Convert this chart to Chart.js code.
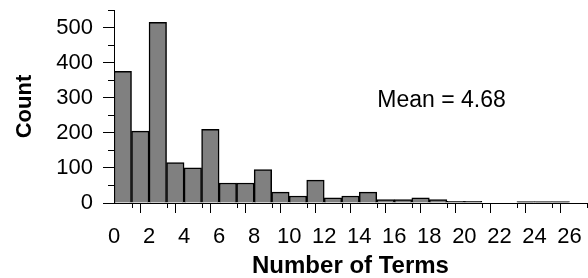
<!DOCTYPE html>
<html>
<head>
<meta charset="utf-8">
<script src="https://cdn.jsdelivr.net/npm/chart.js@4"></script>
<style>
  html, body { margin: 0; padding: 0; background: #fff; }
  #c { display: block; }
</style>
</head>
<body>
<canvas id="c" width="588" height="278"></canvas>
<script>
// ---- data ----
const binStart = [0,1,2,3,4,5,6,7,8,9,10,11,12,13,14,15,16,17,18,19,20,21,22,23,24,25];
const counts   = [375,205,515,115,100,210,57,57,95,31,20,65,15,20,31,10,10,15,10,5,5,0,0,4,4,4];
const xTitle = 'Number of Terms';
const yTitle = 'Count';
const meanLabel = 'Mean = 4.68';
const meanPos = { x: 15.03, y: 274 };   // data coordinates of the annotation

Chart.defaults.font.family = '"Liberation Sans", Arial, sans-serif';
Chart.defaults.color = '#000';

const minorTicks = {
  id: 'minorTicks',
  afterDraw(chart) {
    const { ctx, scales: { x, y } } = chart;
    ctx.save();
    ctx.strokeStyle = '#000';
    ctx.lineWidth = 1;
    ctx.beginPath();
    for (let v = 50; v <= y.max; v += 100) {
      const py = Math.round(y.getPixelForValue(v)) + 0.5;
      ctx.moveTo(y.right - 6, py); ctx.lineTo(y.right, py);
    }
    for (let v = 1; v <= x.max; v += 2) {
      const px = Math.round(x.getPixelForValue(v)) + 0.5;
      ctx.moveTo(px, x.top); ctx.lineTo(px, x.top + 5);
    }
    ctx.stroke();
    // annotation
    ctx.fillStyle = '#000';
    ctx.font = '23px "Liberation Sans", Arial, sans-serif';
    ctx.textAlign = 'left';
    ctx.textBaseline = 'alphabetic';
    ctx.fillText(meanLabel, x.getPixelForValue(meanPos.x), y.getPixelForValue(meanPos.y));
    ctx.restore();
  }
};

new Chart(document.getElementById('c'), {
  type: 'bar',
  data: {
    datasets: [{
      data: binStart.map((b, i) => ({ x: b + 0.5, y: counts[i] })),
      backgroundColor: '#808080',
      borderColor: '#000',
      borderWidth: 1.5,
      barPercentage: 1,
      categoryPercentage: 1
    }]
  },
  options: {
    responsive: false,
    animation: false,
    events: [],
    layout: { padding: { top: 10, right: 1, left: 0, bottom: 0 } },
    plugins: { legend: { display: false }, tooltip: { enabled: false } },
    scales: {
      x: {
        type: 'linear',
        offset: false,
        min: 0, max: 27,
        grid: {
          drawOnChartArea: false, drawTicks: true, tickLength: 10,
          tickColor: c => (c.tick && c.tick.value % 2 === 0) ? '#000' : 'rgba(0,0,0,0)',
          color: '#000'
        },
        border: { display: true, color: '#000', width: 1 },
        ticks: {
          stepSize: 1, autoSkip: false, maxRotation: 0, padding: 11,
          font: { size: 22 },
          callback: v => (v % 2 === 0 ? String(v) : '')
        },
        title: { display: true, text: xTitle, font: { size: 24, weight: 'bold' }, padding: { top: 0, bottom: -3 } },
        afterFit: s => { s.height = 75; s.paddingLeft = 0; s.paddingRight = 0; }
      },
      y: {
        min: 0, max: 550,
        grid: {
          drawOnChartArea: false, drawTicks: true, tickLength: 11,
          tickColor: c => (c.tick && c.tick.value % 100 === 0) ? '#000' : 'rgba(0,0,0,0)',
          color: '#000'
        },
        border: { display: true, color: '#000', width: 1 },
        ticks: {
          stepSize: 50, autoSkip: false, padding: 10,
          font: { size: 22 },
          callback: v => (v % 100 === 0 ? String(v) : '')
        },
        title: { display: true, text: yTitle, font: { size: 22, weight: 'bold' }, padding: { top: 12, bottom: 0 } },
        afterFit: s => { s.width = 114; s.paddingTop = 0; s.paddingBottom = 0; }
      }
    }
  },
  plugins: [minorTicks]
});
</script>
</body>
</html>
